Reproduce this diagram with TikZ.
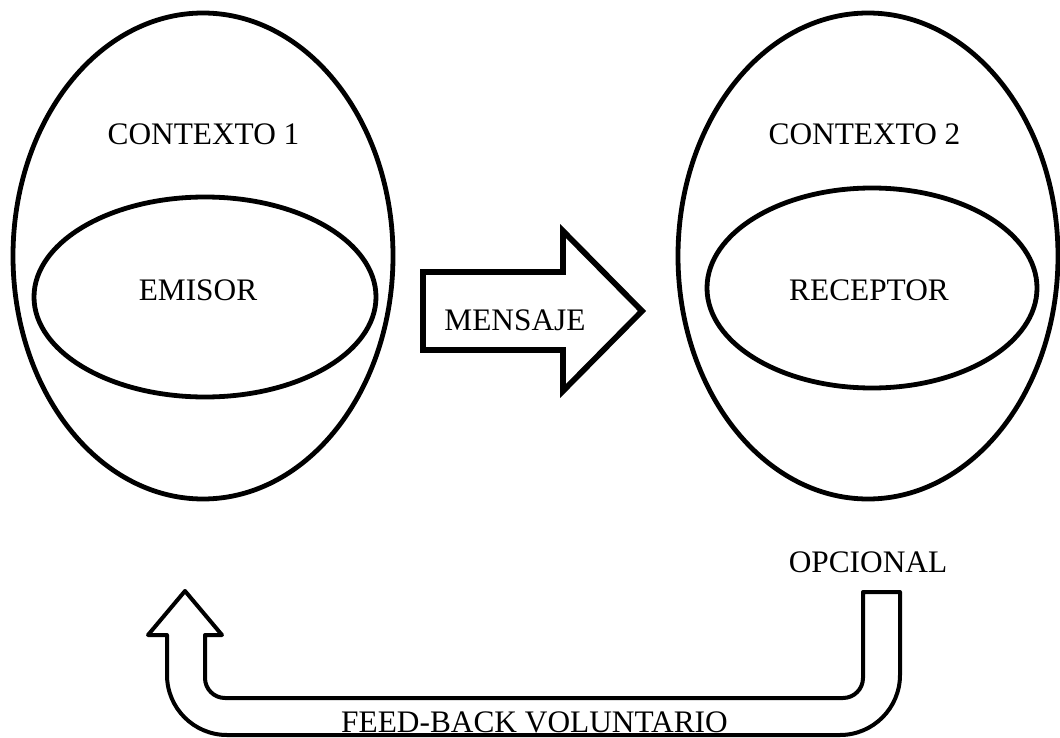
\documentclass[tikz,border=0pt]{standalone}
\usepackage{fontspec}
\setmainfont{Liberation Serif}
\usetikzlibrary{shapes.geometric}

\begin{document}
\begin{tikzpicture}[x=0.75pt,y=0.75pt,yscale=-1,xscale=1,
  ctx/.style={draw, ellipse, line width=3.6pt, inner sep=0pt},
  lbl/.style={anchor=base, inner sep=0.75pt, font=\fontsize{23.5}{28}\selectfont}]
\useasboundingbox (0,0) rectangle (1060,738);

% contexto 1 / emisor
\node [ctx, minimum width=285pt, minimum height=364.5pt] (ctxA) at (203,256) {};
\node [ctx, minimum width=256.5pt, minimum height=150pt] (emisor) at (205,297) {};
% contexto 2 / receptor
\node [ctx, minimum width=285pt, minimum height=364.5pt] (ctxB) at (868,256) {};
\node [ctx, minimum width=247.5pt, minimum height=150pt] (receptor) at (872,288) {};

% mensaje
\draw [line width=4.3pt] (423,272) -- (563,272) -- (563,231) -- (642,311) -- (563,391) -- (563,350) -- (423,350) -- cycle ;

% feed-back
\draw [line width=3pt, line join=round] (185,591) -- (222,635) -- (205,635) -- (205,678) arc [start angle=180, end angle=90, radius=20] -- (843,698) arc [start angle=90, end angle=0, radius=20] -- (863,592) -- (900,592) -- (900,675) arc [start angle=0, end angle=90, radius=60] -- (227,735) arc [start angle=90, end angle=180, radius=60] -- (167,635) -- (148,635) -- cycle ;

\draw (203.5,145) node [lbl] (tctxA) {CONTEXTO 1};
\draw (198,300) node [lbl] (temisor) {EMISOR};
\draw (864.5,145) node [lbl] (tctxB) {CONTEXTO 2};
\draw (869,300) node [lbl] (treceptor) {RECEPTOR};
\draw (515,330) node [lbl] (tmensaje) {MENSAJE};
\draw (868,572) node [lbl] (topcional) {OPCIONAL};
\draw (534.5,732) node [lbl] (tfeedback) {FEED-BACK VOLUNTARIO};

\end{tikzpicture}
\end{document}
